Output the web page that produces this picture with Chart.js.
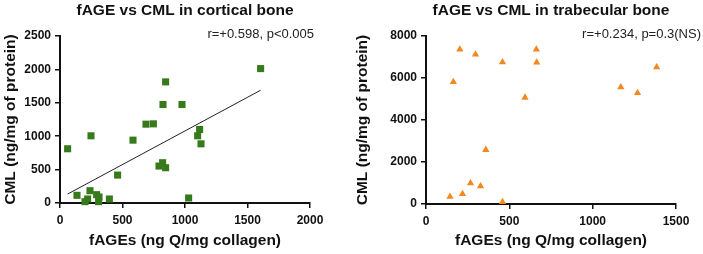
<!DOCTYPE html>
<html>
<head>
<meta charset="utf-8">
<script src="https://cdn.jsdelivr.net/npm/chart.js@4"></script>
<style>
  body { margin: 0; background: #fff; }
  #wrap { position: relative; width: 703px; height: 254px; }
  #wrap canvas { position: absolute; top: 0; }
</style>
</head>
<body>
<div id="wrap">
  <canvas id="chart-cortical" width="352" height="254" style="left:0"></canvas>
  <canvas id="chart-trabecular" width="351" height="254" style="left:352px"></canvas>
</div>
<script>
// cortical bone: fAGEs (x) vs CML (y)
var corticalX = [61, 248, 136, 240, 221, 200, 293, 312, 309, 395, 461, 584, 688, 747, 824, 976, 845, 792, 821, 845, 1029, 1101, 1117, 1128, 1605];
var corticalY = [812, 1006, 115, 184, 60, 20, 125, 90, 20, 60, 418, 941, 1180, 1185, 1474, 1474, 1813, 553, 603, 528, 75, 1006, 1100, 886, 2012];
// regression line end points
var corticalFitX = [61, 1605];
var corticalFitY = [134, 1688];

// trabecular bone
var trabecularX = [144, 164, 203, 219, 267, 297, 327, 359, 459, 459, 594, 662, 664, 1169, 1269, 1384];
var trabecularY = [351, 5817, 7362, 478, 988, 7124, 845, 2582, 6757, 96, 5068, 7362, 6741, 5562, 5291, 6518];

var corticalTicksX = [0, 500, 1000, 1500, 2000];
var corticalTicksY = [0, 500, 1000, 1500, 2000, 2500];
var trabecularTicksX = [0, 500, 1000, 1500];
var trabecularTicksY = [0, 2000, 4000, 6000, 8000];

var xTitle = 'fAGEs (ng Q/mg collagen)';
var yTitle = 'CML (ng/mg of protein)';

function toPoints(xs, ys) {
    return xs.map(function (x, i) { return { x: x, y: ys[i] }; });
}

function axis(ticks, title, isX, size) {
    return {
        type: 'linear',
        min: ticks[0],
        max: ticks[ticks.length - 1],
        afterBuildTicks: function (scale) {
            scale.ticks = ticks.map(function (v) { return { value: v }; });
        },
        afterFit: function (scale) {
            if (isX) scale.height = size; else scale.width = size;
        },
        border: { color: '#111', width: 2 },
        grid: { drawOnChartArea: false, drawTicks: true, tickLength: 5, color: '#111', lineWidth: 1.5 },
        ticks: {
            color: '#111',
            padding: isX ? 5 : 4,
            maxRotation: 0,
            callback: function (value) { return String(value); },
            font: { family: 'Liberation Sans, Arial, sans-serif', size: 12, weight: 'bold' }
        },
        title: {
            display: true,
            text: title,
            color: '#111',
            padding: isX ? { top: 0, bottom: 4 } : { top: 1, bottom: 0 },
            font: { family: 'Liberation Sans, Arial, sans-serif', size: 15.5, weight: 'bold' }
        }
    };
}

function statsLabel(text, x, y) {
    return {
        id: 'statsLabel',
        afterDraw: function (chart) {
            var ctx = chart.ctx;
            ctx.save();
            ctx.font = '13px "Liberation Sans", Arial, sans-serif';
            ctx.fillStyle = '#222';
            ctx.textAlign = 'right';
            ctx.textBaseline = 'alphabetic';
            ctx.fillText(text, x, y);
            ctx.restore();
        }
    };
}

function titleOpts(text) {
    return {
        display: true,
        text: text,
        fullSize: false,
        color: '#111',
        padding: { top: 1, bottom: 16.4 },
        font: { family: 'Liberation Sans, Arial, sans-serif', size: 15.5, weight: 'bold' }
    };
}

new Chart(document.getElementById('chart-cortical'), {
    type: 'scatter',
    data: {
        datasets: [{
            data: toPoints(corticalX, corticalY),
            pointStyle: 'rect',
            pointRadius: 5,
            pointHoverRadius: 5,
            backgroundColor: '#367a1c',
            borderColor: '#367a1c',
            borderWidth: 0,
            clip: false,
            order: 0
        }, {
            data: toPoints(corticalFitX, corticalFitY),
            showLine: true,
            pointRadius: 0,
            borderColor: '#222',
            borderWidth: 1,
            clip: false,
            order: 1
        }]
    },
    options: {
        responsive: false,
        animation: false,
        layout: { padding: { left: 0, right: 42, top: 0, bottom: 0 } },
        plugins: {
            legend: { display: false },
            tooltip: { enabled: false },
            title: titleOpts('fAGE vs CML in cortical bone')
        },
        scales: {
            x: axis(corticalTicksX, xTitle, true, 51),
            y: axis(corticalTicksY, yTitle, false, 60)
        }
    },
    plugins: [statsLabel('r=+0.598, p<0.005', 314, 37.5)]
});

new Chart(document.getElementById('chart-trabecular'), {
    type: 'scatter',
    data: {
        datasets: [{
            data: toPoints(trabecularX, trabecularY),
            pointStyle: 'triangle',
            pointRadius: 4.2,
            pointHoverRadius: 4.2,
            backgroundColor: '#f5871f',
            borderColor: '#f5871f',
            borderWidth: 0,
            clip: false
        }]
    },
    options: {
        responsive: false,
        animation: false,
        layout: { padding: { left: 0, right: 27, top: 0, bottom: 0 } },
        plugins: {
            legend: { display: false },
            tooltip: { enabled: false },
            title: titleOpts('fAGE vs CML in trabecular bone')
        },
        scales: {
            x: axis(trabecularTicksX, xTitle, true, 50),
            y: axis(trabecularTicksY, yTitle, false, 74)
        }
    },
    plugins: [statsLabel('r=+0.234, p=0.3(NS)', 349, 37.5)]
});
</script>
</body>
</html>
